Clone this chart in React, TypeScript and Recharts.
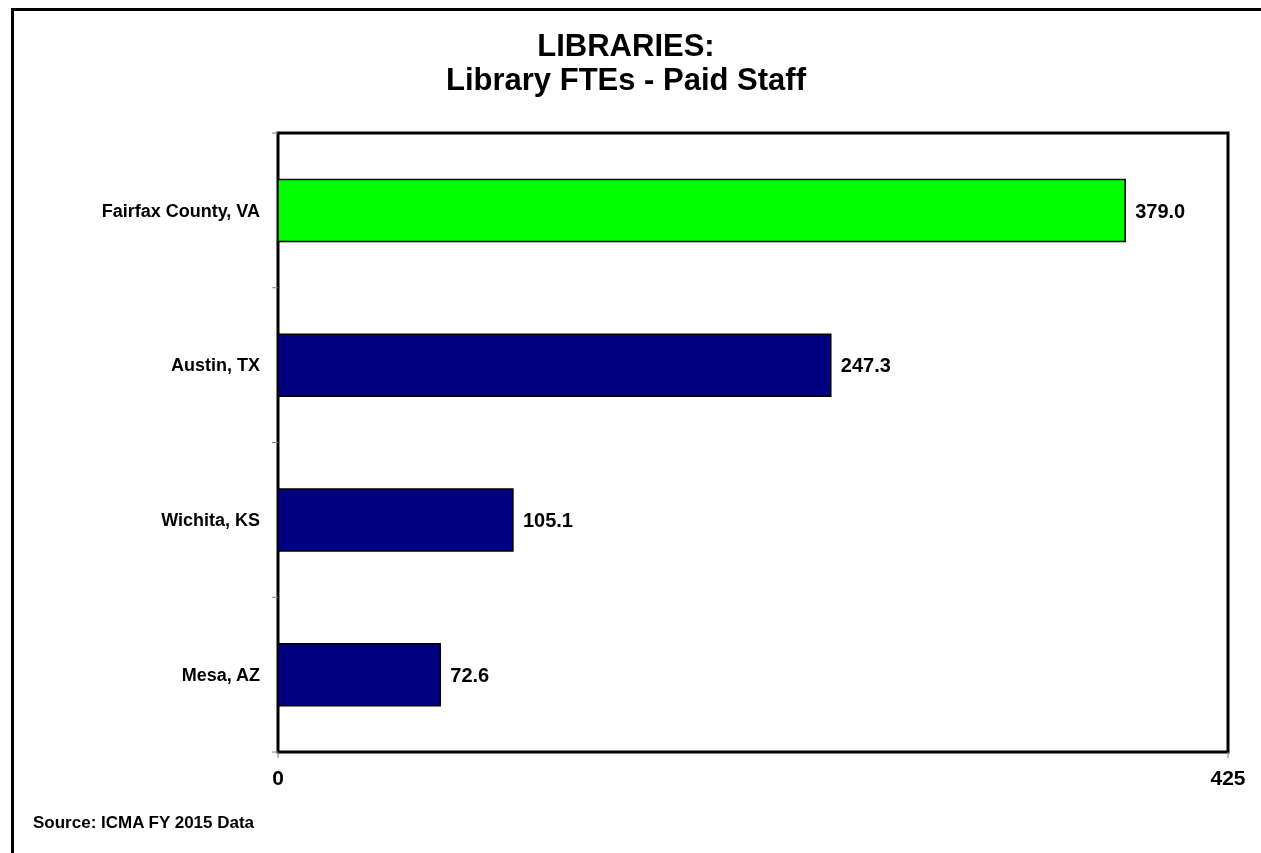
// Library FTEs - paid staff, horizontal bar comparison of four jurisdictions.
import { BarChart, Bar, XAxis, YAxis, Cell, LabelList, ReferenceArea } from "recharts";

const CITIES = ["Fairfax County, VA", "Austin, TX", "Wichita, KS", "Mesa, AZ"];
const FTES = [379.0, 247.3, 105.1, 72.6];
const X_TICKS = [0, 425];
const HIGHLIGHT = "Fairfax County, VA";

const FONT = "'Liberation Sans', Arial, Helvetica, sans-serif";
const COLOR_HOME = "#00FF00";
const COLOR_PEER = "#000080";

const W = 1253;
const H = 845;
const MARGIN = { top: 125, right: 33, left: 70, bottom: 71 };
const Y_AXIS_W = 200;
const X_AXIS_H = 30;
const PLOT_LEFT = MARGIN.left + Y_AXIS_W;
const PLOT_H = H - MARGIN.top - MARGIN.bottom - X_AXIS_H;
const BAND = PLOT_H / CITIES.length;

const data = CITIES.map((name, i) => ({ name, value: FTES[i] }));

// category label plus the small tick marks on the band boundaries
function CityTick(props: any) {
  const { x, y, payload, index } = props;
  const top = y - BAND / 2;
  const bottom = y + BAND / 2;
  return (
    <g>
      <line x1={PLOT_LEFT - 6} x2={PLOT_LEFT} y1={top} y2={top} stroke="#808080" strokeWidth={1} />
      {index === CITIES.length - 1 && (
        <line x1={PLOT_LEFT - 6} x2={PLOT_LEFT} y1={bottom} y2={bottom} stroke="#808080" strokeWidth={1} />
      )}
      <text
        x={x}
        y={y}
        dy="0.35em"
        textAnchor="end"
        fontFamily={FONT}
        fontWeight="bold"
        fontSize={18}
        fill="#000"
      >
        {payload.value}
      </text>
    </g>
  );
}

export default function App() {
  return (
    <div style={{ position: "relative", width: W, height: H, background: "#fff" }}>
      {/* outer frame: only top and left edges fall inside the picture */}
      <div
        style={{
          position: "fixed",
          left: 11,
          top: 8,
          width: 1250,
          height: 845,
          borderTop: "3px solid #000",
          borderLeft: "3px solid #000",
          boxSizing: "border-box",
        }}
      />
      <div
        style={{
          position: "absolute",
          left: 0,
          top: 21,
          width: 1236,
          textAlign: "center",
          fontFamily: FONT,
          fontWeight: "bold",
          fontSize: 31,
          lineHeight: "34px",
          color: "#000",
        }}
      >
        LIBRARIES:
        <br />
        Library FTEs - Paid Staff
      </div>
      <div
        style={{
          position: "absolute",
          left: 25,
          top: 805,
          fontFamily: FONT,
          fontWeight: "bold",
          fontSize: 17,
          color: "#000",
        }}
      >
        Source: ICMA FY 2015 Data
      </div>
      <BarChart
        width={W}
        height={H}
        data={data}
        layout="vertical"
        margin={MARGIN}
        barCategoryGap="30%"
        style={{ position: "absolute", left: 0, top: 0 }}
      >
        <XAxis
          type="number"
          domain={[0, 425]}
          ticks={X_TICKS}
          interval={0}
          height={X_AXIS_H}
          axisLine={false}
          tickLine={{ stroke: "#808080" }}
          tickSize={6}
          tickMargin={12}
          tick={{ fontFamily: FONT, fontWeight: "bold", fontSize: 21, fill: "#000" }}
        />
        <YAxis
          type="category"
          dataKey="name"
          width={Y_AXIS_W}
          axisLine={false}
          tickLine={false}
          tickSize={6}
          tickMargin={12}
          interval={0}
          tick={<CityTick />}
        />
        <Bar dataKey="value" stroke="#000" strokeWidth={1.5} isAnimationActive={false}>
          {data.map((d) => (
            <Cell key={d.name} fill={d.name === HIGHLIGHT ? COLOR_HOME : COLOR_PEER} />
          ))}
          <LabelList
            dataKey="value"
            position="right"
            offset={10}
            formatter={(v: any) => Number(v).toFixed(1)}
            style={{ fontFamily: FONT, fontWeight: "bold", fontSize: 20, fill: "#000" }}
          />
        </Bar>
        <ReferenceArea x1={0} x2={425} fill="none" stroke="#000" strokeWidth={3} ifOverflow="visible" />
      </BarChart>
    </div>
  );
}
